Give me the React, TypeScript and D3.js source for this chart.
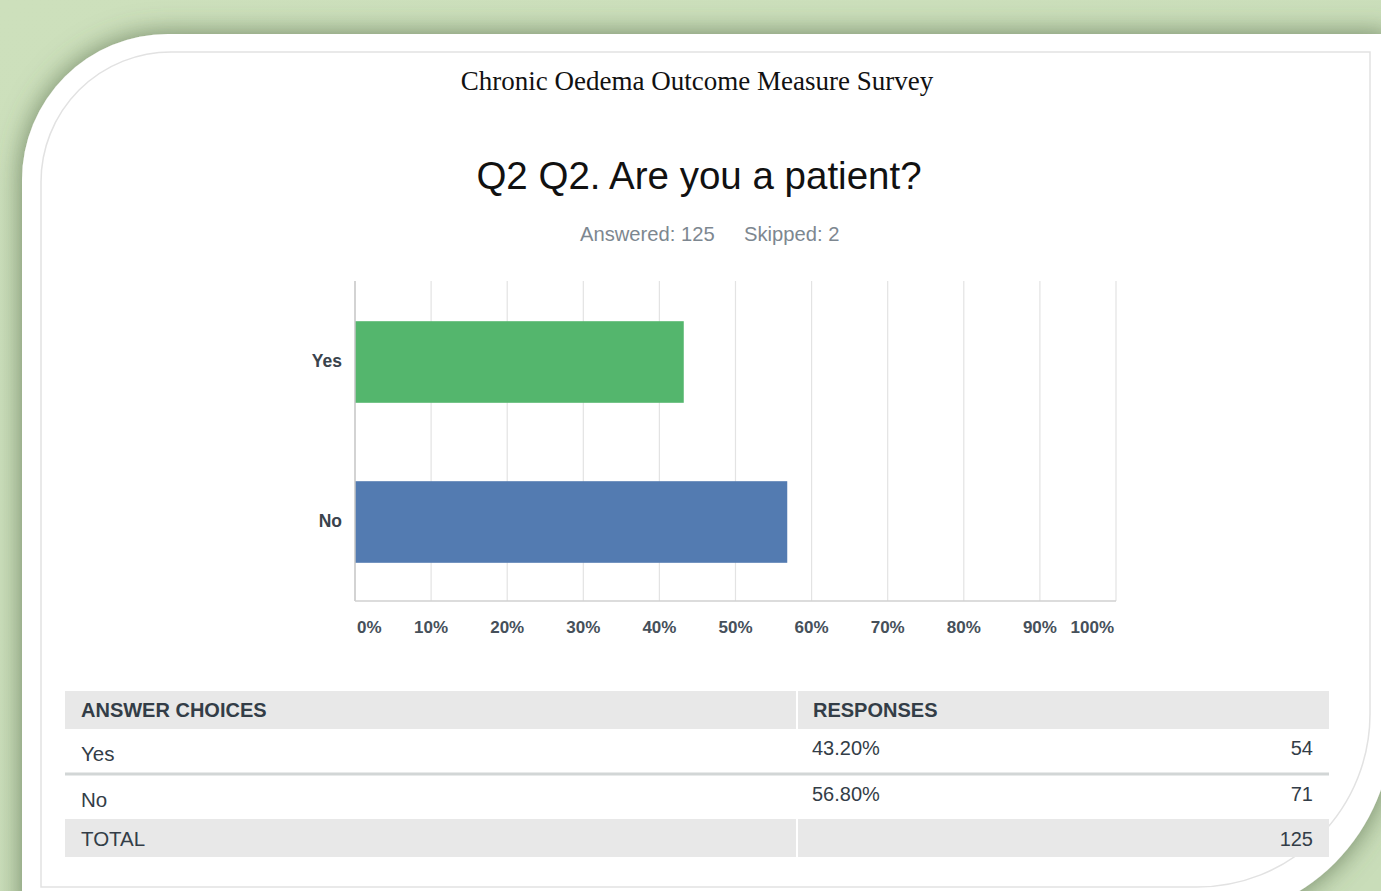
import * as d3 from "d3";
import { useEffect, useRef } from "react";

const surveyTitle = "Chronic Oedema Outcome Measure Survey";
const questionTitle = "Q2 Q2. Are you a patient?";
const answered = 125;
const skipped = 2;

const categories = ["Yes", "No"];
const percents = [43.2, 56.8];
const counts = [54, 71];
const barColors = ["#54b66d", "#537bb1"];
const xTicks = [0, 10, 20, 30, 40, 50, 60, 70, 80, 90, 100];

const W = 1381;
const H = 891;
const plot = { left: 355, right: 1116, top: 281, bottom: 601 };
const sans = "'Liberation Sans', Arial, sans-serif";
const textColor = "#333d47";

export default function App() {
  const svgRef = useRef<SVGSVGElement | null>(null);

  useEffect(() => {
    if (!svgRef.current) return;
    drawChart(svgRef.current);
  }, []);

  return (
    <div style={{ position: "absolute", left: 0, top: 0, width: W, height: H }}>
      <svg ref={svgRef} width={W} height={H} style={{ display: "block" }} />
    </div>
  );
}

function drawChart(svgElement: SVGSVGElement) {
  const svg = d3.select(svgElement);
  svg.selectAll("*").remove();

  const defs = svg.append("defs");
  const bgGrad = defs
    .append("linearGradient")
    .attr("id", "bg-grad")
    .attr("x1", 0)
    .attr("y1", 0)
    .attr("x2", 1)
    .attr("y2", 1);
  bgGrad.append("stop").attr("offset", "0%").attr("stop-color", "#cde0bc");
  bgGrad.append("stop").attr("offset", "100%").attr("stop-color", "#c9ddb9");

  const shadow = defs
    .append("filter")
    .attr("id", "card-shadow")
    .attr("x", "-10%")
    .attr("y", "-10%")
    .attr("width", "120%")
    .attr("height", "120%");
  shadow
    .append("feDropShadow")
    .attr("dx", 0)
    .attr("dy", 0)
    .attr("stdDeviation", 14)
    .attr("flood-color", "#4f6645")
    .attr("flood-opacity", 0.75);

  svg.append("rect").attr("width", W).attr("height", H).attr("fill", "url(#bg-grad)");

  // white card
  const cardPath =
    "M22,180 A146,146 0 0 1 168,34 L1392,34 L1392,725 " +
    "A195,195 0 0 1 1197,920 L22,920 Z";
  svg
    .append("path")
    .attr("d", cardPath)
    .attr("fill", "#ffffff")
    .attr("filter", "url(#card-shadow)");

  // inner page border
  const innerPath =
    "M41,887 L41,182 A130,130 0 0 1 171,52 L1370,52 L1370,714 " +
    "A173,173 0 0 1 1197,887 Z";
  svg
    .append("path")
    .attr("d", innerPath)
    .attr("fill", "none")
    .attr("stroke", "#e2e2e2")
    .attr("stroke-width", 1.5);

  // titles
  svg
    .append("text")
    .attr("x", 697)
    .attr("y", 90)
    .attr("text-anchor", "middle")
    .attr("fill", "#111")
    .style("font-family", "'Liberation Serif', 'Times New Roman', serif")
    .style("font-size", "27px")
    .text(surveyTitle);

  svg
    .append("text")
    .attr("x", 699)
    .attr("y", 189)
    .attr("text-anchor", "middle")
    .attr("fill", "#111")
    .style("font-family", sans)
    .style("font-size", "38.5px")
    .text(questionTitle);

  svg
    .append("text")
    .attr("x", 580)
    .attr("y", 241)
    .attr("fill", "#7d8790")
    .style("font-family", sans)
    .style("font-size", "20.2px")
    .text(`Answered: ${answered}`);

  svg
    .append("text")
    .attr("x", 744)
    .attr("y", 241)
    .attr("fill", "#7d8790")
    .style("font-family", sans)
    .style("font-size", "20.2px")
    .text(`Skipped: ${skipped}`);

  // scales
  const xScale = d3.scaleLinear().domain([0, 100]).range([plot.left, plot.right]);
  const yScale = d3
    .scaleBand<string>()
    .domain(categories)
    .range([plot.top, plot.bottom])
    .paddingInner(0.49)
    .paddingOuter(0.245);

  // grid
  svg
    .append("g")
    .selectAll("line")
    .data(xTicks.slice(1))
    .join("line")
    .attr("x1", (d) => xScale(d))
    .attr("x2", (d) => xScale(d))
    .attr("y1", plot.top)
    .attr("y2", plot.bottom)
    .attr("stroke", "#e3e3e3")
    .attr("stroke-width", 1.2);

  // bars
  svg
    .append("g")
    .selectAll("rect")
    .data(categories)
    .join("rect")
    .attr("x", xScale(0))
    .attr("y", (d) => (yScale(d) ?? 0) + 1)
    .attr("width", (_, i) => xScale(percents[i]) - xScale(0))
    .attr("height", yScale.bandwidth())
    .attr("fill", (_, i) => barColors[i]);

  // axis lines
  svg
    .append("line")
    .attr("x1", plot.left)
    .attr("x2", plot.left)
    .attr("y1", plot.top)
    .attr("y2", plot.bottom)
    .attr("stroke", "#c4c4c4")
    .attr("stroke-width", 1.5);
  svg
    .append("line")
    .attr("x1", plot.left)
    .attr("x2", plot.right)
    .attr("y1", plot.bottom)
    .attr("y2", plot.bottom)
    .attr("stroke", "#d0d0d0")
    .attr("stroke-width", 1.5);

  // x tick labels
  svg
    .append("g")
    .selectAll("text")
    .data(xTicks)
    .join("text")
    .attr("x", (d) => (d === 0 ? xScale(d) + 2 : d === 100 ? xScale(d) - 2 : xScale(d)))
    .attr("y", 633)
    .attr("text-anchor", (d) => (d === 0 ? "start" : d === 100 ? "end" : "middle"))
    .attr("fill", "#46505a")
    .style("font-family", sans)
    .style("font-weight", "700")
    .style("font-size", "17px")
    .text((d) => `${d}%`);

  // category labels
  svg
    .append("g")
    .selectAll("text")
    .data(categories)
    .join("text")
    .attr("x", plot.left - 13)
    .attr("y", (d) => (yScale(d) ?? 0) + yScale.bandwidth() / 2 + 6)
    .attr("text-anchor", "end")
    .attr("fill", "#3a434c")
    .style("font-family", sans)
    .style("font-weight", "700")
    .style("font-size", "17.5px")
    .text((d) => d);

  // table
  const tLeft = 65;
  const tRight = 1329;
  const colX = 797;
  const table = svg.append("g").style("font-family", sans);

  table
    .append("rect")
    .attr("x", tLeft)
    .attr("y", 691)
    .attr("width", tRight - tLeft)
    .attr("height", 38)
    .attr("fill", "#e8e8e8");
  table
    .append("rect")
    .attr("x", tLeft)
    .attr("y", 819)
    .attr("width", tRight - tLeft)
    .attr("height", 38)
    .attr("fill", "#e8e8e8");
  [691, 819].forEach((y) =>
    table
      .append("rect")
      .attr("x", colX - 1)
      .attr("y", y)
      .attr("width", 2)
      .attr("height", 38)
      .attr("fill", "#ffffff")
  );

  table
    .append("text")
    .attr("x", 81)
    .attr("y", 717)
    .attr("fill", textColor)
    .style("font-weight", "700")
    .style("font-size", "20px")
    .text("ANSWER CHOICES");
  table
    .append("text")
    .attr("x", 813)
    .attr("y", 717)
    .attr("fill", textColor)
    .style("font-weight", "700")
    .style("font-size", "20px")
    .text("RESPONSES");

  const rowTop = [729, 775];
  categories.forEach((cat, i) => {
    table
      .append("text")
      .attr("x", 81)
      .attr("y", rowTop[i] + 32)
      .attr("fill", textColor)
      .style("font-size", "20.5px")
      .text(cat);
    table
      .append("text")
      .attr("x", 812)
      .attr("y", rowTop[i] + 26)
      .attr("fill", textColor)
      .style("font-size", "20px")
      .text(`${percents[i].toFixed(2)}%`);
    table
      .append("text")
      .attr("x", 1313)
      .attr("y", rowTop[i] + 26)
      .attr("text-anchor", "end")
      .attr("fill", textColor)
      .style("font-size", "20px")
      .text(counts[i]);
  });

  table
    .append("line")
    .attr("x1", tLeft)
    .attr("x2", tRight)
    .attr("y1", 774)
    .attr("y2", 774)
    .attr("stroke", "#d2d6d6")
    .attr("stroke-width", 3);

  table
    .append("text")
    .attr("x", 81)
    .attr("y", 846)
    .attr("fill", textColor)
    .style("font-size", "20.5px")
    .text("TOTAL");
  table
    .append("text")
    .attr("x", 1313)
    .attr("y", 846)
    .attr("text-anchor", "end")
    .attr("fill", textColor)
    .style("font-size", "20px")
    .text(d3.sum(counts));
}
